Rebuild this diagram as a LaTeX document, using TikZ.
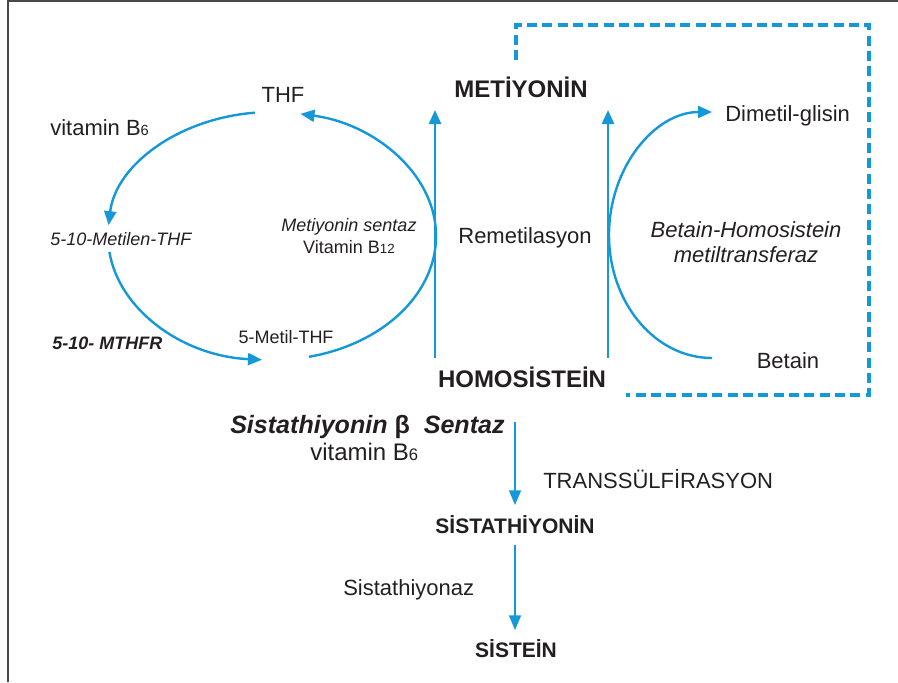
\documentclass[tikz,border=0pt]{standalone}
\usepackage{fontspec}
\setmainfont{Liberation Sans}
\usetikzlibrary{arrows.meta}
\definecolor{pathblue}{RGB}{20,152,216}
\definecolor{ink}{RGB}{35,31,32}
\definecolor{frame}{RGB}{72,72,72}

\begin{document}
\begin{tikzpicture}[x=0.75pt,y=-0.75pt,
  every node/.style={text=ink,inner sep=0pt,anchor=base,font=\fontsize{16.5}{19}\selectfont},
  flow/.style={draw=pathblue,line width=1.8pt,-{Triangle[length=10.5pt,width=9pt]}},
  thinflow/.style={draw=pathblue,line width=1.1pt,-{Triangle[length=11pt,width=9pt]}},
  small/.style={font=\fontsize{13.5}{16}\selectfont},
  hub/.style={font=\fontsize{18}{21}\selectfont\bfseries},
  sub/.style={font=\fontsize{15.75}{18}\selectfont\bfseries}]
\useasboundingbox (0,0) rectangle (898,682);
\draw[frame,line width=1.1pt] (8,682) -- (8,1) -- (898,1);

% Folate cycle
\node (thf) at (283,102) {THF};
\node[anchor=base west] (vb6a) at (50,135) {vitamin B{\fontsize{11}{12}\selectfont 6}};
\node[anchor=base west,font=\fontsize{13.5}{16}\selectfont\itshape] (mthf) at (50,245) {5-10-Metilen-THF};
\node[anchor=base west,font=\fontsize{13.5}{16}\selectfont\bfseries\itshape] (mthfr) at (52,349) {5-10- MTHFR};
\node[small] (methyl) at (286,343) {5-Metil-THF};
\node[font=\fontsize{13.5}{16}\selectfont\itshape] (ms) at (349,231) {Metiyonin sentaz};
\node[small] (b12) at (349,253) {Vitamin B{\fontsize{10}{11}\selectfont 12}};
\draw[flow] (272,236) ++(264:164 and 124) arc[start angle=264,end angle=185,x radius=164,y radius=124];
\draw[flow] (272,236) ++(172.6:164 and 124) arc[start angle=172.6,end angle=93.5,x radius=164,y radius=124];
\draw[flow] (272,236) ++(77:164 and 124) arc[start angle=77,end angle=-80,x radius=164,y radius=124];

% Remethylation
\node[hub] (met) at (521,97) {METİYONİN};
\node[hub] (homo) at (522,387) {HOMOSİSTEİN};
\node (remet) at (525,243) {Remetilasyon};
\coordinate (remL) at (435,358);
\coordinate (remLtop) at (435,110);
\coordinate (remR) at (608,358);
\coordinate (remRtop) at (608,110);
\draw[flow] (remL) -- (remLtop);
\draw[flow] (remR) -- (remRtop);

% Betaine route
\node[font=\fontsize{16.5}{19}\selectfont\itshape] (bhmt) at (746,237) {Betain-Homosistein};
\node[font=\fontsize{16.5}{19}\selectfont\itshape] (bhmt2) at (746,262) {metiltransferaz};
\node (betain) at (788,368) {Betain};
\node[anchor=base west] (dmg) at (725,121) {Dimetil-glisin};
\draw[flow] (712,358) arc[start angle=90,end angle=270,x radius=103,y radius=123];
\draw[pathblue,line width=3pt,dash pattern=on 7.5pt off 4pt] (516,60) -- (516,25) -- (869,25) -- (869,395) -- (626,395);

% Transsulfuration
\node[anchor=base west,font=\fontsize{18.8}{22}\selectfont\bfseries\itshape] (cbs) at (230,433) {Sistathiyonin {\upshape β}~~Sentaz};
\node[anchor=base west,font=\fontsize{18}{21}\selectfont] (vb6b) at (310,460) {vitamin B{\fontsize{12.5}{13}\selectfont 6}};
\node[anchor=base west] (trans) at (543,488) {TRANSSÜLFİRASYON};
\node[sub] (cysta) at (515,533) {SİSTATHİYONİN};
\node[anchor=base west] (cgl) at (343,595) {Sistathiyonaz};
\node[sub] (cys) at (516,657) {SİSTEİN};
\coordinate (tsA) at (515,422);
\coordinate (tsB) at (515,505);
\coordinate (tsC) at (515,545);
\coordinate (tsD) at (515,630);
\draw[thinflow] (tsA) -- (tsB);
\draw[thinflow] (tsC) -- (tsD);
\end{tikzpicture}
\end{document}
